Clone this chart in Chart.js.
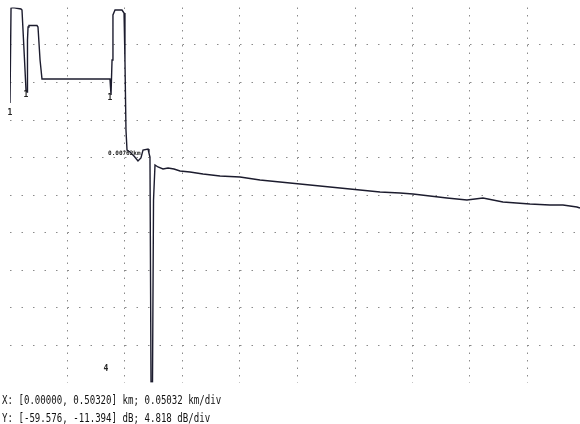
<!DOCTYPE html>
<html>
<head>
<meta charset="utf-8">
<script src="https://cdn.jsdelivr.net/npm/chart.js@4.4.1/dist/chart.umd.min.js"></script>
<style>
  html, body { margin: 0; padding: 0; background: #fff; width: 580px; height: 424px; overflow: hidden; }
  #wrap { position: absolute; left: 0; top: 0; width: 590px; height: 424px; }
  .info { position: absolute; left: 2px; font-family: "DejaVu Sans Mono", monospace; font-size: 13px; color: #111;
          transform: scaleX(0.7); transform-origin: 0 0; white-space: pre; }
</style>
</head>
<body>
<div id="wrap"><canvas id="c" width="590" height="424"></canvas></div>
<div class="info" style="top:392px">X: [0.00000, 0.50320] km; 0.05032 km/div</div>
<div class="info" style="top:410px">Y: [-59.576, -11.394] dB; 4.818 dB/div</div>
<script>
// Distance (km) and level (dB) of the OTDR trace
const distanceKm = [0.0000,0.0009,0.0026,0.0096,0.0105,0.0127,0.0140,0.0149,0.0153,0.0158,0.0166,0.0236,0.0245,0.0263,0.0280,0.0875,0.0884,0.0893,0.0901,0.0919,0.0980,0.0998,0.1006,0.1015,0.1024,0.1050,0.1085,0.1120,0.1146,0.1164,0.1208,0.1216,0.1225,0.1234,0.1247,0.1256,0.1269,0.1295,0.1339,0.1383,0.1435,0.1488,0.1575,0.1689,0.1838,0.2013,0.2188,0.2363,0.2538,0.2713,0.2888,0.3063,0.3238,0.3413,0.3526,0.3675,0.3824,0.3999,0.4139,0.4314,0.4550,0.4725,0.4839,0.4961,0.4988];
const levelDb = [-23.664,-11.458,-11.394,-11.587,-11.715,-18.139,-21.994,-22.251,-15.570,-13.899,-13.707,-13.707,-13.899,-18.139,-20.581,-20.581,-22.637,-18.139,-12.358,-11.715,-11.715,-12.101,-18.139,-27.133,-29.703,-29.960,-30.474,-31.116,-30.731,-29.703,-29.574,-30.088,-30.602,-59.512,-59.512,-36.127,-31.630,-31.887,-32.144,-32.016,-32.144,-32.401,-32.529,-32.786,-33.043,-33.172,-33.557,-33.814,-34.071,-34.328,-34.585,-34.842,-35.099,-35.228,-35.356,-35.613,-35.870,-36.127,-35.870,-36.384,-36.641,-36.770,-36.770,-37.027,-37.155];

// Grid divisions
const xTicks = [0, 0.05032, 0.10064, 0.15096, 0.20128, 0.2516, 0.30192, 0.35224, 0.40256, 0.45288, 0.5032];
const yTicks = [-59.576, -54.758, -49.940, -45.122, -40.304, -35.485, -30.667, -25.849, -21.031, -16.212, -11.394];

// Event markers and annotation
const markerKm = [0.0000, 0.0140, 0.0875, 0.0840];
const markerDb = [-25.0, -22.6, -23.0, -57.8];
const markerText = ["1", "1", "1", "4"];
const annotKm = [0.0858];
const annotDb = [-30.10];
const annotText = ["0.00762km"];

const pts = distanceKm.map((x, i) => ({ x: x, y: levelDb[i] }));

const labelsPlugin = {
  id: 'labels',
  afterDatasetsDraw(chart) {
    const ctx = chart.ctx, xs = chart.scales.x, ys = chart.scales.y;
    ctx.save();
    ctx.fillStyle = '#222';
    ctx.textBaseline = 'middle';
    ctx.textAlign = 'center';
    ctx.font = 'bold 8px "DejaVu Sans Mono", monospace';
    markerKm.forEach((k, i) => {
      ctx.fillText(markerText[i], xs.getPixelForValue(k), ys.getPixelForValue(markerDb[i]));
    });
    ctx.textAlign = 'left';
    ctx.font = 'bold 6px "DejaVu Sans Mono", monospace';
    annotKm.forEach((k, i) => {
      ctx.fillText(annotText[i], xs.getPixelForValue(k), ys.getPixelForValue(annotDb[i]));
    });
    ctx.restore();
  }
};

const edgeHidden = (c) => (c.index === 0 || c.index === c.chart.scales[c.scale.id].ticks.length - 1) ? 'rgba(0,0,0,0)' : '#8a8a8a';

new Chart(document.getElementById('c'), {
  type: 'scatter',
  data: { datasets: [{
    data: pts, showLine: true, borderColor: '#1c1c2e', borderWidth: 1.4,
    pointRadius: 0, tension: 0, fill: false
  }]},
  options: {
    responsive: false, animation: false,
    layout: { padding: { left: 10, right: 5, top: 7.5, bottom: 41.5 } },
    plugins: { legend: { display: false }, tooltip: { enabled: false } },
    scales: {
      x: {
        type: 'linear', min: 0, max: 0.5032,
        afterBuildTicks: (s) => { s.ticks = xTicks.map(v => ({ value: v })); },
        ticks: { display: false },
        border: { display: false, dash: [1.5, 6] },
        grid: { drawTicks: false, color: edgeHidden, lineWidth: 1 }
      },
      y: {
        type: 'linear', min: -59.576, max: -11.394,
        afterBuildTicks: (s) => { s.ticks = yTicks.map(v => ({ value: v })); },
        ticks: { display: false },
        border: { display: false, dash: [1.5, 10] },
        grid: { drawTicks: false, color: edgeHidden, lineWidth: 1 }
      }
    }
  },
  plugins: [labelsPlugin]
});
</script>
</body>
</html>
